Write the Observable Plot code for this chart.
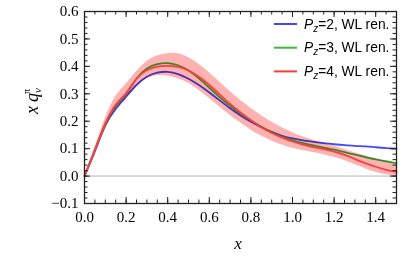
<!DOCTYPE html>
<html><head><meta charset="utf-8">
<script src="https://cdn.jsdelivr.net/npm/d3@7"></script>
<script src="https://cdn.jsdelivr.net/npm/@observablehq/plot@0.6"></script>
<style>body{margin:0;background:#fff} svg{display:block}</style>
</head><body><div id="chart"></div>
<script>
// ---- data ----
const xs    = [0,0.05,0.1,0.15,0.2,0.25,0.3,0.35,0.4,0.45,0.5,0.55,0.6,0.65,0.7,0.75,0.8,0.85,0.9,0.95,1.0,1.05,1.1,1.15,1.2,1.25,1.3,1.35,1.4,1.45,1.5];
const pz2   = [0,0.09,0.185,0.245,0.29,0.332,0.362,0.377,0.38,0.372,0.355,0.332,0.305,0.276,0.247,0.221,0.198,0.178,0.161,0.147,0.137,0.13,0.125,0.12,0.116,0.113,0.11,0.108,0.105,0.102,0.10];
const pz3   = [0,0.095,0.19,0.255,0.30,0.355,0.392,0.408,0.412,0.404,0.385,0.356,0.322,0.288,0.256,0.228,0.203,0.18,0.16,0.143,0.13,0.12,0.112,0.104,0.096,0.087,0.078,0.069,0.061,0.054,0.047];
const pz4   = [0,0.095,0.19,0.26,0.302,0.355,0.386,0.399,0.402,0.398,0.385,0.362,0.332,0.298,0.263,0.232,0.204,0.178,0.157,0.14,0.126,0.115,0.106,0.098,0.089,0.077,0.062,0.047,0.034,0.023,0.015];
const bandLo= [0,0.085,0.17,0.24,0.28,0.325,0.355,0.366,0.364,0.355,0.338,0.313,0.283,0.252,0.222,0.194,0.168,0.146,0.128,0.113,0.101,0.093,0.086,0.078,0.069,0.057,0.042,0.027,0.014,0.005,0.0];
const bandHi= [0,0.105,0.21,0.29,0.335,0.38,0.418,0.438,0.446,0.446,0.432,0.408,0.377,0.343,0.308,0.276,0.247,0.221,0.197,0.176,0.158,0.143,0.131,0.12,0.109,0.097,0.085,0.074,0.064,0.054,0.045];
const xTicks = [0,0.2,0.4,0.6,0.8,1.0,1.2,1.4];
const yTicks = [-0.1,0,0.1,0.2,0.3,0.4,0.5,0.6];
const xMinor = d3.range(0,1.5001,0.05).map(v=>+v.toFixed(2));
const yMinor = d3.range(-0.1,0.6001,0.02).map(v=>+v.toFixed(2));
const legendPz = ["2","3","4"];
const colors = ["#4646ff","#3cbc3c","#ff3c3c"];

const rows = xs.map((x,i)=>({x, a:pz2[i], b:pz3[i], c:pz4[i], lo:bandLo[i], hi:bandHi[i]}));

const W=415,H=257,mL=84,mR=19,mT=11,mB=54;
const innerH=H-mT-mB, innerW=W-mL-mR;
const maj=6, mnr=3.5;
const curve="natural";
const fmt=d3.format(".1f");
const serif="'Liberation Serif', 'Times New Roman', serif";

const plot = Plot.plot({
  width:W,height:H,marginLeft:mL,marginRight:mR,marginTop:mT,marginBottom:mB,
  x:{domain:[0,1.5]}, y:{domain:[-0.1,0.6]},
  style:{fontFamily:serif, fontSize:"15px", background:"#fff", color:"#000"},
  marks:[
    Plot.ruleY([0],{stroke:"#b4b4b4",strokeWidth:1}),
    Plot.lineY(rows,{x:"x",y:"a",stroke:colors[0],strokeWidth:1.8,curve}),
    Plot.lineY(rows,{x:"x",y:"b",stroke:colors[1],strokeWidth:1.8,curve}),
    Plot.areaY(rows,{x:"x",y1:"lo",y2:"hi",fill:"#ffb2b2",mixBlendMode:"multiply",curve}),
    Plot.lineY(rows,{x:"x",y:"c",stroke:colors[2],strokeWidth:1.8,curve}),
    // inward frame ticks
    Plot.ruleX(xTicks,{insetTop:innerH-maj,stroke:"#222"}),
    Plot.ruleX(xTicks,{insetBottom:innerH-maj,stroke:"#222"}),
    Plot.ruleX(xMinor,{insetTop:innerH-mnr,stroke:"#222"}),
    Plot.ruleX(xMinor,{insetBottom:innerH-mnr,stroke:"#222"}),
    Plot.ruleY(yTicks,{insetRight:innerW-maj,stroke:"#222"}),
    Plot.ruleY(yTicks,{insetLeft:innerW-maj,stroke:"#222"}),
    Plot.ruleY(yMinor,{insetRight:innerW-mnr,stroke:"#222"}),
    Plot.ruleY(yMinor,{insetLeft:innerW-mnr,stroke:"#222"}),
    Plot.frame({stroke:"#222",strokeWidth:1.3}),
    Plot.axisX({ticks:xTicks,tickSize:0,tickPadding:7.5,tickFormat:fmt,label:null,fontSize:15,fontFamily:serif}),
    Plot.axisY({ticks:yTicks,tickSize:0,tickPadding:6,tickFormat:fmt,label:null,fontSize:15,fontFamily:serif})
  ]
});
document.getElementById("chart").appendChild(plot);

const svg=d3.select(plot);
// axis titles
svg.append("text").attr("x",238).attr("y",249).attr("text-anchor","middle")
  .attr("font-family",serif).attr("font-size",17).attr("font-style","italic").text("x");
const yl=svg.append("text").attr("transform","translate(38,101) rotate(-90)").attr("text-anchor","middle")
  .attr("font-family",serif).attr("font-size",18);
yl.append("tspan").attr("font-style","italic").text("x");
yl.append("tspan").attr("dx",4).attr("font-style","italic").text("q");
yl.append("tspan").attr("font-style","italic").attr("font-size",11).attr("dy",3).text("v");
yl.append("tspan").attr("font-size",10).attr("dx",-6).attr("dy",-11).text("π");

// legend
const lg=svg.append("g").attr("font-family","'Liberation Sans', Arial, sans-serif").attr("font-size",13.8).attr("text-anchor","start");
legendPz.forEach((p,i)=>{
  const y=24+23.7*i;
  lg.append("line").attr("x1",274).attr("x2",297).attr("y1",y).attr("y2",y).attr("stroke",colors[i]).attr("stroke-width",2);
  const t=lg.append("text").attr("x",304).attr("y",y+4.5).attr("text-anchor","start");
  t.append("tspan").attr("font-style","italic").text("P");
  t.append("tspan").attr("font-style","italic").attr("font-size",10).attr("dy",3).text("z");
  t.append("tspan").attr("dy",-3).text("="+p+", WL ren.");
});
</script></body></html>
